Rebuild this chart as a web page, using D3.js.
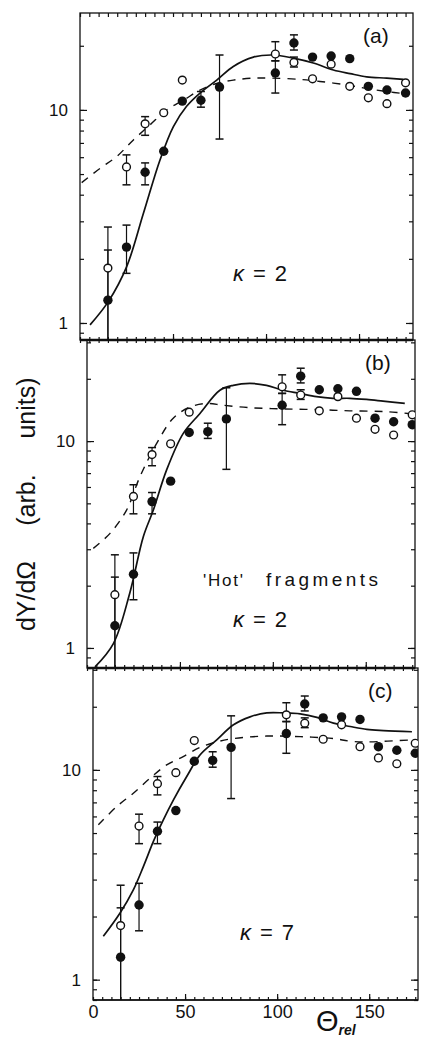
<!DOCTYPE html>
<html>
<head>
<meta charset="utf-8">
<script src="https://cdn.jsdelivr.net/npm/d3@7"></script>
<style>
  html, body { margin: 0; padding: 0; background: #fff; }
  svg { display: block; }
  text { font-family: "Liberation Sans", Arial, sans-serif; fill: #111; }
</style>
</head>
<body>
<svg id="chart" width="424" height="1039"></svg>
<script>
// ---------------- DATA ----------------
const panelLabels = ["(a)", "(b)", "(c)"];
const kappaValues = ["2", "2", "7"];
const noteWords = ["'Hot'", "fragments"];
const xTickLabels = [0, 50, 100, 150];
const yTickLabels = [1, 10];
const yTitleParts = ["dY/d\u03A9", "(arb.", "units)"];

// measured points (same in every panel)
const filledX = [15, 25, 35, 45, 55, 65, 75, 105, 115, 125, 135, 145, 155, 165, 175];
const filledY = [1.28, 2.27, 5.1, 6.4, 11.0, 11.1, 12.8, 14.9, 20.6, 17.7, 17.9, 17.4, 12.9, 12.4, 12.0];
const openX = [15, 25, 35, 45, 55, 105, 115, 125, 135, 145, 155, 165, 175];
const openY = [1.81, 5.4, 8.6, 9.7, 13.8, 18.3, 16.7, 14.0, 16.4, 12.9, 11.4, 10.7, 13.4];

// error bars: x, low, high
const filledErrX = [15, 25, 35, 65, 75, 105, 115];
const filledErrLo = [0.7, 1.71, 4.45, 10.3, 7.3, 12.0, 19.1];
const filledErrHi = [2.2, 2.88, 5.64, 12.2, 18.1, 17.0, 22.5];
const openErrX = [15, 25, 35, 105, 115];
const openErrLo = [0.7, 4.45, 7.6, 17.0, 15.9];
const openErrHi = [2.82, 6.15, 9.3, 20.9, 17.7];

// model curves, panel (a)
const solidAX = [5.4, 15.2, 25.1, 34.1, 43.0, 50.2, 57.3, 64.5, 73.5, 82.4, 93.2, 103.9, 114.7, 125.4, 136.2, 145.2, 154.1, 164.9, 173.8];
const solidAY = [0.98, 1.26, 1.84, 3.27, 5.82, 8.35, 10.4, 12.0, 13.8, 16.0, 17.7, 18.1, 17.5, 16.6, 15.4, 14.8, 14.3, 14.1, 13.9];
const dashAX = [0.9, 10.8, 19.7, 28.7, 37.6, 46.6, 55.6, 64.5, 73.5, 82.4, 93.2, 103.9, 118.3, 129, 143.4, 154.1, 164.9, 174.7];
const dashAY = [4.56, 5.32, 6.04, 7.23, 8.5, 10.0, 11.1, 12.4, 13.3, 13.8, 14.1, 14.1, 13.9, 13.6, 13.1, 12.6, 12.2, 11.9];
// panel (b)
const solidBX = [4.3, 14.2, 23, 30.3, 35.7, 42.8, 51.8, 60.8, 71.5, 78.7, 87.6, 96.6, 105.6, 114.5, 123.5, 132.4, 141.4, 150.4, 159.3, 171];
const solidBY = [0.81, 1.05, 1.84, 3.45, 4.64, 7.24, 10.9, 13.6, 17.6, 18.6, 19.0, 18.6, 17.6, 17.0, 16.4, 16.1, 16.1, 15.9, 15.6, 15.2];
const dashBX = [3.4, 12.4, 21.3, 28.5, 37.5, 46.4, 55.4, 64.3, 73.3, 87.6, 105.6, 123.5, 141.4, 159.3, 172.8];
const dashBY = [3.03, 3.58, 4.64, 6.73, 9.74, 12.9, 14.6, 15.2, 14.9, 14.5, 14.3, 14.2, 14.0, 13.9, 13.6];
// panel (c)
const solidCX = [5.6, 14.7, 21.9, 27.4, 32.8, 38.2, 43.7, 50.9, 58.2, 67.2, 76.3, 85.3, 94.4, 103.4, 112.5, 121.6, 130.6, 139.7, 148.7, 157.8, 173.2];
const solidCY = [1.61, 2.08, 2.68, 3.47, 4.56, 5.78, 7.2, 9.3, 11.8, 13.9, 16.4, 17.9, 18.7, 18.7, 18.5, 17.8, 16.7, 16.1, 15.6, 15.4, 15.2];
const dashCX = [2.9, 12.9, 21.9, 31, 40, 49, 58.2, 67.2, 76.3, 94.4, 112.5, 130.6, 139.7, 148.7, 173.2];
const dashCY = [5.47, 6.69, 7.74, 9.13, 10.56, 11.57, 12.8, 13.6, 14.1, 14.5, 14.4, 14.1, 13.7, 13.6, 13.9];

const solidX = [solidAX, solidBX, solidCX];
const solidY = [solidAY, solidBY, solidCY];
const dashX = [dashAX, dashBX, dashCX];
const dashY = [dashAY, dashBY, dashCY];

// ---------------- LAYOUT ----------------
const layout = [
  { left: 80, right: 413, top: 13,  bottom: 340,  xMax: 179, yMin: 0.832, yMax: 28.5 },
  { left: 87, right: 415, top: 340, bottom: 668,  xMax: 176.5, yMin: 0.80, yMax: 30.8 },
  { left: 93, right: 418, top: 668, bottom: 1000, xMax: 176.5, yMin: 0.80, yMax: 30.6 }
];

const svg = d3.select("#chart");
const zip = (a, b) => a.map((v, i) => [v, b[i]]);
const minorLog = [];
[0.1, 1, 10].forEach(d => { for (let k = 1; k <= 9; k++) minorLog.push(d * k); });

layout.forEach((L, p) => {
  const x = d3.scaleLinear().domain([0, L.xMax]).range([L.left, L.right]);
  const y = d3.scaleLog().domain([L.yMin, L.yMax]).range([L.bottom, L.top]);
  const yMinor = minorLog.filter(v => v >= L.yMin && v <= L.yMax);
  const g = svg.append("g");

  const clipId = "clip" + p;
  svg.append("clipPath").attr("id", clipId)
    .append("rect").attr("x", L.left).attr("y", L.top)
    .attr("width", L.right - L.left).attr("height", L.bottom - L.top);

  // frame
  g.append("rect").attr("x", L.left).attr("y", L.top)
    .attr("width", L.right - L.left).attr("height", L.bottom - L.top)
    .attr("fill", "none").attr("stroke", "#111").attr("stroke-width", 1.3);

  const styleAxis = sel => {
    sel.select(".domain").remove();
    sel.selectAll("line").attr("stroke", "#111").attr("stroke-width", 1.2);
  };
  const xMinorTicks = d3.range(0, L.xMax, 5);
  if (p < 2) {
    g.append("g").attr("transform", `translate(0,${L.bottom})`)
      .call(d3.axisBottom(x).tickValues(xMinorTicks).tickSize(3).tickFormat(""))
      .call(styleAxis);
  }
  g.append("g").attr("transform", `translate(0,${L.bottom})`)
    .call(d3.axisBottom(x).tickValues(xMinorTicks).tickSize(-3).tickFormat(""))
    .call(styleAxis);
  g.append("g").attr("transform", `translate(0,${L.bottom})`)
    .call(d3.axisBottom(x).tickValues([50, 100, 150]).tickSize(-6).tickFormat(""))
    .call(styleAxis);
  g.append("line").attr("x1", L.left).attr("x2", L.right)
    .attr("y1", L.bottom).attr("y2", L.bottom)
    .attr("stroke", "#111").attr("stroke-width", p < 2 ? 2.4 : 1.6);
  if (p === 0) {
    g.append("g").attr("transform", `translate(0,${L.top})`)
      .call(d3.axisTop(x).tickValues(xMinorTicks).tickSize(-4).tickFormat(""))
      .call(styleAxis);
  }
  g.append("g").attr("transform", `translate(${L.left},0)`)
    .call(d3.axisLeft(y).tickValues(yMinor).tickSize(-4).tickFormat(""))
    .call(styleAxis);
  g.append("g").attr("transform", `translate(${L.left},0)`)
    .call(d3.axisLeft(y).tickValues(yTickLabels).tickSize(-7).tickFormat(""))
    .call(styleAxis);
  g.append("g").attr("transform", `translate(${L.right},0)`)
    .call(d3.axisRight(y).tickValues(yMinor).tickSize(-4).tickFormat(""))
    .call(styleAxis);
  g.append("g").attr("transform", `translate(${L.right},0)`)
    .call(d3.axisRight(y).tickValues(yTickLabels).tickSize(-7).tickFormat(""))
    .call(styleAxis);
  const yl = g.append("g").attr("transform", `translate(${L.left},0)`)
    .call(d3.axisLeft(y).tickValues(yTickLabels).tickSize(0).tickPadding(12).tickFormat(d3.format("d")));
  yl.select(".domain").remove();
  yl.selectAll("text").attr("font-size", 17).attr("font-family", "Liberation Sans, Arial, sans-serif").attr("fill", "#111");

  if (p === 2) {
    const xl = g.append("g").attr("transform", `translate(0,${L.bottom})`)
      .call(d3.axisBottom(x).tickValues(xTickLabels).tickSize(0).tickPadding(5).tickFormat(d3.format("d")));
    xl.select(".domain").remove();
    xl.selectAll("text").attr("font-size", 18).attr("font-family", "Liberation Sans, Arial, sans-serif").attr("fill", "#111");
  }

  const plot = g.append("g").attr("clip-path", `url(#${clipId})`);
  const line = d3.line().x(d => x(d[0])).y(d => y(d[1])).curve(d3.curveCatmullRom.alpha(0.5));

  plot.append("path").datum(zip(dashX[p], dashY[p])).attr("d", line)
    .attr("fill", "none").attr("stroke", "#111").attr("stroke-width", 1.4)
    .attr("stroke-dasharray", "8,7");
  plot.append("path").datum(zip(solidX[p], solidY[p])).attr("d", line)
    .attr("fill", "none").attr("stroke", "#111").attr("stroke-width", 1.7);

  const drawErr = (xs, lo, hi) => {
    xs.forEach((xv, i) => {
      const cx = x(xv);
      plot.append("line").attr("x1", cx).attr("x2", cx).attr("y1", y(lo[i])).attr("y2", y(hi[i]))
        .attr("stroke", "#111").attr("stroke-width", 1.2);
      [lo[i], hi[i]].forEach(v => {
        plot.append("line").attr("x1", cx - 4).attr("x2", cx + 4).attr("y1", y(v)).attr("y2", y(v))
          .attr("stroke", "#111").attr("stroke-width", 1.5);
      });
    });
  };
  drawErr(filledErrX, filledErrLo, filledErrHi);
  drawErr(openErrX, openErrLo, openErrHi);

  plot.selectAll("circle.f").data(zip(filledX, filledY)).enter().append("circle")
    .attr("cx", d => x(d[0])).attr("cy", d => y(d[1])).attr("r", 4.7).attr("fill", "#111");
  plot.selectAll("circle.o").data(zip(openX, openY)).enter().append("circle")
    .attr("cx", d => x(d[0])).attr("cy", d => y(d[1])).attr("r", 3.9)
    .attr("fill", "#fff").attr("stroke", "#111").attr("stroke-width", 1.4);

  g.append("text").attr("x", L.right - 50).attr("y", L.top + 30)
    .attr("font-size", 21).text(panelLabels[p]);
  const kY = [281, 627, 940][p];
  const kX = [233, 233, 240][p];
  g.append("text").attr("x", kX).attr("y", kY).attr("font-size", 22)
    .attr("textLength", 54).attr("lengthAdjust", "spacing")
    .html(`<tspan font-style="italic">\u03BA</tspan>=${kappaValues[p]}`);
  if (p === 1) {
    g.append("text").attr("x", 203).attr("y", 586).attr("font-size", 17)
      .attr("textLength", 40).attr("lengthAdjust", "spacing").text(noteWords[0]);
    g.append("text").attr("x", 266).attr("y", 586).attr("font-size", 19)
      .attr("textLength", 112).attr("lengthAdjust", "spacing").text(noteWords[1]);
  }
});

const yCenters = [596, 500, 408];
yTitleParts.forEach((t, i) => {
  svg.append("text").attr("transform", `translate(35,${yCenters[i]}) rotate(-90)`)
    .attr("text-anchor", "middle").attr("font-size", 25).text(t);
});
const xt = svg.append("text").attr("x", 316).attr("y", 1031);
xt.append("tspan").attr("font-size", 29).text("\u0398");
xt.append("tspan").attr("font-size", 14).attr("font-weight", "bold").attr("font-style", "italic")
  .attr("dy", 4).text("rel");
</script>
</body>
</html>
